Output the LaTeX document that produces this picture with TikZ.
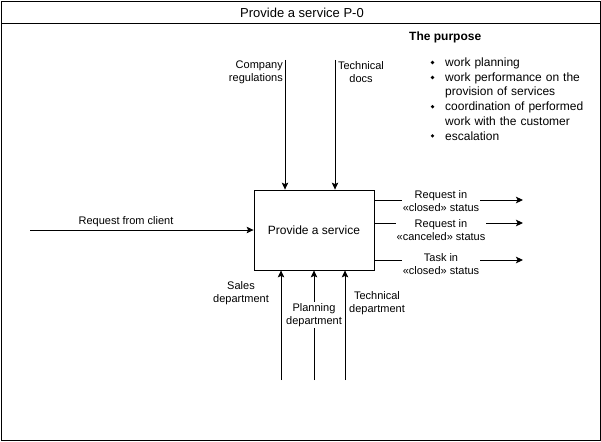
\documentclass[tikz,border=0pt]{standalone}
\usepackage{fontspec}
\setmainfont{Liberation Sans}
\usetikzlibrary{arrows.meta}
\begin{document}
\begin{tikzpicture}[x=1pt,y=-1pt,
  font=\fontsize{11}{13}\selectfont,
  conn/.style={line width=1pt,-{Stealth[length=7pt,width=6.5pt,inset=1.5pt]}},
  lbl/.style={inner sep=0pt,align=center},
  wlbl/.style={inner sep=1pt,align=center,fill=white},
  item/.style={inner sep=0pt,anchor=west,align=left,text width=156pt,font=\fontsize{12}{14.6}\selectfont}]
\useasboundingbox (0,0) rectangle (601,441);
\draw (1,1) rectangle (600,440);
\draw (1,23) -- (600,23);
\node[lbl,font=\fontsize{13}{15}\selectfont] (title) at (302,12.5) {Provide a service P-0};
% main box
\node[draw,line width=0.8pt,minimum width=120pt,minimum height=80pt,inner sep=0pt,font=\fontsize{12}{14}\selectfont] (box) at (314,230) {\raisebox{-1pt}{Provide a service}};
% input
\coordinate (in) at (30,230);
\draw[conn] (in) -- (box.west);
\node[lbl] (inl) at (126,221.5) {Request from client};
% controls
\coordinate (c1) at (285,60);
\coordinate (c2) at (335,60);
\draw[conn] (c1) -- (box.north -| c1);
\draw[conn] (c2) -- (box.north -| c2);
\node[lbl,align=right,anchor=east] (c1l) at (283,72.5) {Company\\regulations};
\node[lbl] (c2l) at (361,72.5) {Technical\\docs};
% mechanisms
\coordinate (m1) at (281,380);
\coordinate (m2) at (314,380);
\coordinate (m3) at (345,380);
\draw[conn] (m1) -- (m1 |- box.south);
\draw[conn] (m2) -- (m2 |- box.south);
\draw[conn] (m3) -- (m3 |- box.south);
\node[lbl] (m1l) at (241,293) {Sales\\department};
\node[wlbl] (m2l) at (314,315) {Planning\\department};
\node[lbl] (m3l) at (377,303) {Technical\\department};
% outputs
\coordinate (o1) at (523,200);
\coordinate (o2) at (523,223);
\coordinate (o3) at (523,260);
\draw[conn] (o1 -| box.east) -- (o1);
\draw[conn] (o2 -| box.east) -- (o2);
\draw[conn] (o3 -| box.east) -- (o3);
\node[wlbl] (o1l) at (441,201.5) {Request in\\«closed» status};
\node[wlbl] (o2l) at (441,230) {Request in\\«canceled» status};
\node[wlbl] (o3l) at (441,264) {Task in\\«closed» status};
% purpose
\node[lbl,anchor=west,font=\bfseries\fontsize{12}{14}\selectfont] (pt) at (409,37.5) {The purpose};
\fill (432.5,62.5) circle (1.8pt);
\fill (432.5,77.5) circle (1.8pt);
\fill (432.5,106.7) circle (1.8pt);
\fill (432.5,135.9) circle (1.8pt);
\node[item] (i1) at (445,63) {work planning};
\node[item,anchor=north west] (i2) at (445,72.5) {work performance on the\\provision of services};
\node[item,anchor=north west] (i3) at (445,101.7) {coordination of performed\\work with the customer};
\node[item] (i4) at (445,136) {escalation};
\end{tikzpicture}
\end{document}
